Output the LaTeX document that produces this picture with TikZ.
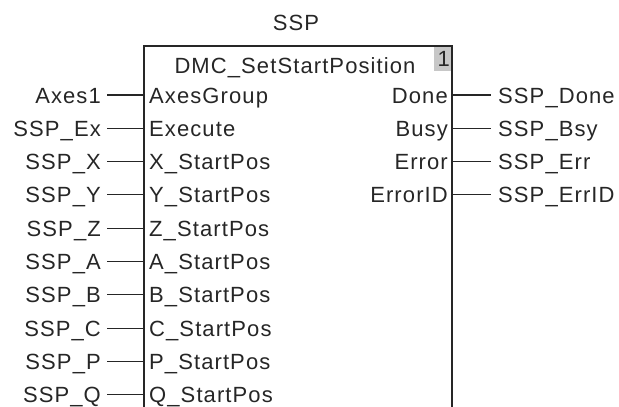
\documentclass[tikz,border=0pt]{standalone}
\usepackage{fontspec}
\setmainfont[LetterSpace=5]{Liberation Sans}
\begin{document}
\begin{tikzpicture}[x=1pt,y=-1pt,
  lbl/.style={inner ysep=0pt,text height=16pt,text depth=0pt,font=\fontsize{22}{26}\selectfont,text=black!85},
  inl/.style={lbl,anchor=east,inner xsep=6pt},
  pinl/.style={lbl,anchor=west,inner xsep=5pt},
  poutl/.style={lbl,anchor=east,inner xsep=4pt},
  outl/.style={lbl,anchor=west,inner xsep=7pt},
  wire/.style={line width=1.1pt,draw=black!85},
  fbbox/.style={line width=1.5pt,draw=black!85}]
\useasboundingbox (0,0) rectangle (619,407);
% block outline
\coordinate (bl) at (144,420);
\coordinate (tl) at (144,46);
\coordinate (tr) at (452,46);
\coordinate (br) at (452,420);
\fill[black!22] (434,46) rectangle (452,71);
\node[lbl,anchor=east,inner xsep=2pt] (num) at (452,58) {1};
\draw[fbbox] (bl) -- (tl) -- (tr) -- (br);
\node[lbl] (inst) at (296,22) {SSP};
\node[lbl] (fbname) at (295,65) {DMC\_SetStartPosition};
% inputs
\foreach \i/\ext/\pin in {0/Axes1/AxesGroup,1/SSP\_Ex/Execute,2/SSP\_X/X\_StartPos,3/SSP\_Y/Y\_StartPos,4/SSP\_Z/Z\_StartPos,5/SSP\_A/A\_StartPos,6/SSP\_B/B\_StartPos,7/SSP\_C/C\_StartPos,8/SSP\_P/P\_StartPos,9/SSP\_Q/Q\_StartPos}{
  \coordinate (ip\i) at (144,{95+33.3*\i});
  \node[inl] (iv\i) at (107,{95+33.3*\i}) {\ext};
  \node[pinl] (in\i) at (ip\i) {\pin};
  \draw[wire] (iv\i.east) -- (ip\i);
}
% outputs
\foreach \i/\pin/\ext in {0/Done/SSP\_Done,1/Busy/SSP\_Bsy,2/Error/SSP\_Err,3/ErrorID/SSP\_ErrID}{
  \coordinate (op\i) at (452,{95+33.3*\i});
  \node[poutl] (on\i) at (op\i) {\pin};
  \node[outl] (ov\i) at (491,{95+33.3*\i}) {\ext};
  \draw[wire] (op\i) -- (ov\i.west);
}
\end{tikzpicture}
\end{document}
